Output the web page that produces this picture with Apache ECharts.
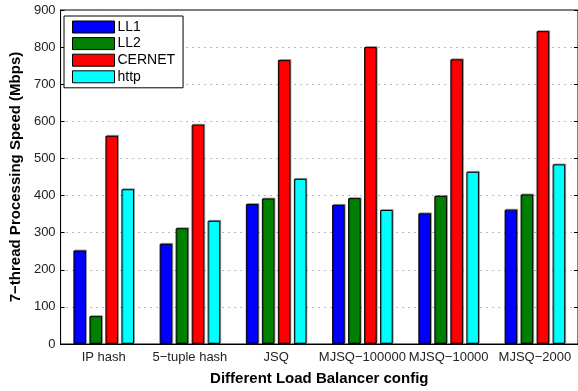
<!DOCTYPE html>
<html>
<head>
<meta charset="utf-8">
<script src="https://cdn.jsdelivr.net/npm/echarts@6/dist/echarts.min.js"></script>
<style>
  html, body { margin: 0; padding: 0; background: #fff; }
  #chart { width: 578px; height: 391px; }
</style>
</head>
<body>
<div id="chart"></div>
<script>
// configs on the x axis
var categories = ['IP hash', '5\u2212tuple hash', 'JSQ', 'MJSQ\u2212100000', 'MJSQ\u221210000', 'MJSQ\u22122000'];

// 7-thread speed (Mbps) per trace
var ll1    = [252, 270, 377, 375, 352, 362];
var ll2    = [75, 312, 392, 393, 399, 403];
var cernet = [561, 591, 765, 800, 767, 843];
var http   = [417, 332, 445, 361, 464, 484];

var seriesNames = ['LL1', 'LL2', 'CERNET', 'http'];
var seriesColors = ['#0000ff', '#008000', '#ff0000', '#00ffff'];
var seriesData = [ll1, ll2, cernet, http];

var font = '"Liberation Sans", Arial, Helvetica, sans-serif';

var chart = echarts.init(document.getElementById('chart'), null, { renderer: 'canvas' });

var series = seriesNames.map(function (name, i) {
    return {
        name: name,
        type: 'bar',
        data: seriesData[i],
        barWidth: 12.6,
        barGap: '27%',
        itemStyle: {
            color: seriesColors[i],
            borderColor: '#000',
            borderWidth: 1,
            shadowColor: 'rgba(0,0,0,0.3)',
            shadowOffsetX: 1,
            shadowOffsetY: -1,
            shadowBlur: 0
        }
    };
});

var option = {
    backgroundColor: '#ffffff',
    animation: false,
    textStyle: { fontFamily: font },
    grid: {
        left: 58,
        top: 10,
        right: -2,
        bottom: 43,
        show: true,
        borderColor: '#000',
        borderWidth: 1
    },
    legend: {
        data: seriesNames,
        orient: 'vertical',
        left: 64,
        top: 16,
        padding: [4, 8, 4, 8],
        itemGap: 2.6,
        itemWidth: 42,
        itemHeight: 12,
        icon: 'rect',
        backgroundColor: '#fff',
        borderColor: '#000',
        borderWidth: 1,
        itemStyle: { borderColor: '#000', borderWidth: 1, shadowBlur: 0, shadowOffsetX: 0, shadowOffsetY: 0 },
        textStyle: { fontFamily: font, fontSize: 14, color: '#000', padding: [0, 0, 0, -2] }
    },
    xAxis: [{
        type: 'category',
        data: categories,
        position: 'bottom',
        name: 'Different Load Balancer config',
        nameLocation: 'middle',
        nameGap: 27,
        nameTextStyle: { fontFamily: font, fontSize: 15, fontWeight: 'bold', color: '#000' },
        axisLine: { lineStyle: { color: '#000', width: 1 } },
        axisTick: { inside: true, length: 5, alignWithLabel: true, lineStyle: { color: '#333' } },
        axisLabel: { fontFamily: font, fontSize: 13, color: '#222', margin: 7, interval: 0 },
        splitLine: { show: false }
    }, {
        type: 'category',
        data: categories,
        position: 'top',
        axisLine: { lineStyle: { color: '#000', width: 1 } },
        axisTick: { inside: true, length: 4, alignWithLabel: true, lineStyle: { color: '#000' } },
        axisLabel: { show: false },
        splitLine: { show: false }
    }],
    yAxis: [{
        type: 'value',
        min: 0,
        max: 900,
        interval: 100,
        name: '7\u2212thread Processing Speed (Mbps)',
        nameLocation: 'middle',
        nameGap: 32,
        nameTextStyle: { fontFamily: font, fontSize: 15, fontWeight: 'bold', color: '#000' },
        axisLine: { show: true, lineStyle: { color: '#000', width: 1 } },
        axisTick: { show: true, inside: true, length: 4, lineStyle: { color: '#000' } },
        axisLabel: { fontFamily: font, fontSize: 13, color: '#222', margin: 5 },
        splitLine: { show: true, lineStyle: { color: '#777', width: 1, type: [1, 5] } }
    }, {
        type: 'value',
        min: 0,
        max: 900,
        interval: 100,
        position: 'right',
        axisLine: { show: true, lineStyle: { color: '#000', width: 1 } },
        axisTick: { show: true, inside: true, length: 4, lineStyle: { color: '#000' } },
        axisLabel: { show: false },
        splitLine: { show: false }
    }],
    series: series
};

chart.setOption(option);
</script>
</body>
</html>
